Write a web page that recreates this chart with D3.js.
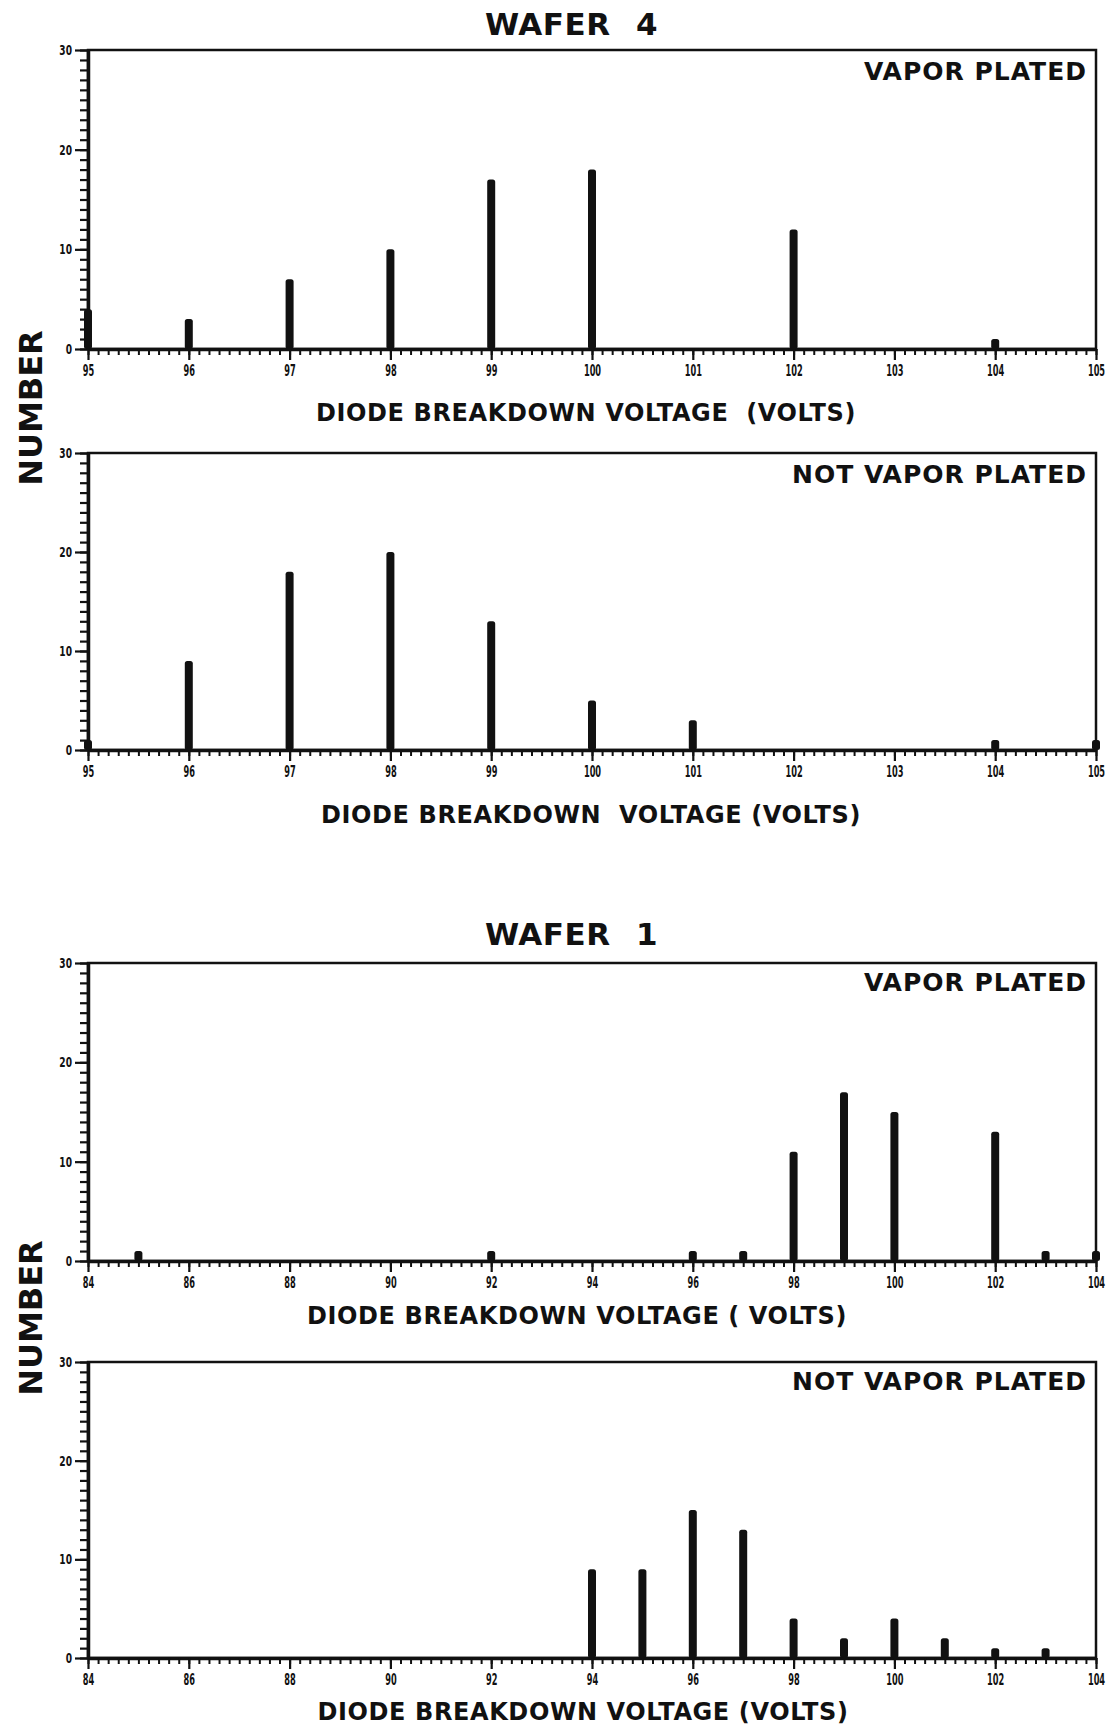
<!DOCTYPE html>
<html>
<head>
  <meta charset="utf-8">
  <style>
    body { margin: 0; background: #fff; }
    text { font-family: "DejaVu Sans", sans-serif; font-weight: bold; fill: #111; white-space: pre; }
  </style>
</head>
<body>
  <script src="https://cdn.jsdelivr.net/npm/d3@7/dist/d3.min.js"></script>
  <script>
    // wafer 4 values (count of diodes per breakdown voltage)
    var w4Ticks = [95, 96, 97, 98, 99, 100, 101, 102, 103, 104, 105];
    var w4VpVolts = [95, 96, 97, 98, 99, 100, 102, 104];
    var w4VpCounts = [4, 3, 7, 10, 17, 18, 12, 1];
    var w4NvpVolts = [95, 96, 97, 98, 99, 100, 101, 104, 105];
    var w4NvpCounts = [1, 9, 18, 20, 13, 5, 3, 1, 1];

    // wafer 1 values
    var w1Ticks = [84, 86, 88, 90, 92, 94, 96, 98, 100, 102, 104];
    var w1VpVolts = [85, 92, 96, 97, 98, 99, 100, 102, 103, 104];
    var w1VpCounts = [1, 1, 1, 1, 11, 17, 15, 13, 1, 1];
    var w1NvpVolts = [94, 95, 96, 97, 98, 99, 100, 101, 102, 103];
    var w1NvpCounts = [9, 9, 15, 13, 4, 2, 4, 2, 1, 1];

    var yTicks = [0, 10, 20, 30];

    var width = 1117, height = 1725;
    var left = 88, right = 1096;

    var svg = d3.select("body").append("svg")
      .attr("width", width)
      .attr("height", height);

    // titles
    function title(txt, num, base) {
      var t = svg.append("text").attr("x", 485).attr("y", base)
        .attr("font-size", 31).attr("letter-spacing", 0.5);
      t.append("tspan").text(txt);
      t.append("tspan").attr("x", 636).text(num);
    }
    title("WAFER", "4", 35);
    title("WAFER", "1", 945);

    // vertical NUMBER labels
    [408, 1318].forEach(function (cy) {
      svg.append("text")
        .attr("transform", "translate(42," + cy + ") rotate(-90)")
        .attr("text-anchor", "middle")
        .attr("font-size", 32)
        .text("NUMBER");
    });

    function panel(o) {
      var x = d3.scaleLinear().domain([o.ticks[0], o.ticks[o.ticks.length - 1]]).range([left, right]);
      var y = d3.scaleLinear().domain([0, 30]).range([o.zero, o.top]);
      var g = svg.append("g");

      // frame (top + right)
      g.append("rect")
        .attr("x", left).attr("y", o.top)
        .attr("width", right - left).attr("height", o.zero - o.top)
        .attr("fill", "none").attr("stroke", "#111").attr("stroke-width", 2.5);

      // x minor ticks
      var xMinor = g.append("g")
        .attr("transform", "translate(0," + o.zero + ")")
        .call(d3.axisBottom(x)
          .tickValues(d3.range(o.ticks[0], o.ticks[o.ticks.length - 1] + 0.001, o.minor))
          .tickSize(6).tickSizeOuter(0).tickFormat(""));
      xMinor.selectAll("line").attr("stroke", "#111").attr("stroke-width", 2);
      xMinor.select(".domain").attr("stroke", "#111").attr("stroke-width", 3.5);

      // x major ticks + labels
      var xMajor = g.append("g")
        .attr("transform", "translate(0," + o.zero + ")")
        .call(d3.axisBottom(x).tickValues(o.ticks).tickSize(11).tickSizeOuter(0).tickPadding(5));
      xMajor.select(".domain").remove();
      xMajor.selectAll("line").attr("stroke", "#111").attr("stroke-width", 2.2);
      xMajor.selectAll("text")
        .attr("font-family", "DejaVu Sans")
        .attr("font-weight", "bold")
        .attr("font-size", 15)
        .attr("fill", "#111")
        .attr("transform", "scale(0.55,1)");

      // y minor ticks
      var yMinor = g.append("g")
        .attr("transform", "translate(" + left + ",0)")
        .call(d3.axisLeft(y).tickValues(d3.range(0, 31, 1)).tickSize(8).tickSizeOuter(0).tickFormat(""));
      yMinor.selectAll("line").attr("stroke", "#111").attr("stroke-width", 2.2);
      yMinor.select(".domain").attr("stroke", "#111").attr("stroke-width", 3.5);

      // y major ticks + labels
      var yMajor = g.append("g")
        .attr("transform", "translate(" + left + ",0)")
        .call(d3.axisLeft(y).tickValues(yTicks).tickSize(13).tickSizeOuter(0));
      yMajor.select(".domain").remove();
      yMajor.selectAll("line").attr("stroke", "#111").attr("stroke-width", 2.2);
      yMajor.selectAll("text")
        .attr("font-family", "DejaVu Sans")
        .attr("font-weight", "bold")
        .attr("font-size", 14)
        .attr("fill", "#111")
        .attr("x", 0)
        .attr("transform", "translate(-16,0) scale(0.65,1)");

      // bars
      g.selectAll(".bar")
        .data(o.volts)
        .enter()
        .append("rect")
        .attr("x", function (d) { return x(d) - 4; })
        .attr("y", function (d, i) { return y(o.counts[i]); })
        .attr("width", 8)
        .attr("height", function (d, i) { return o.zero - y(o.counts[i]); })
        .attr("rx", 2.5)
        .attr("fill", "#111");

      // tag in upper right
      g.append("text")
        .attr("x", 1087).attr("y", o.tagBase)
        .attr("text-anchor", "end")
        .attr("font-size", 25)
        .attr("letter-spacing", 1)
        .text(o.tag);

      // x axis label
      g.append("text")
        .attr("x", o.labelCx).attr("y", o.labelBase)
        .attr("text-anchor", "middle")
        .attr("font-size", 24)
        .attr("letter-spacing", 0.6)
        .text(o.label);
    }

    panel({ ticks: w4Ticks, minor: 0.1, volts: w4VpVolts, counts: w4VpCounts,
            top: 50, zero: 349, tagBase: 80, labelBase: 421, labelCx: 586,
            tag: "VAPOR PLATED", label: "DIODE BREAKDOWN VOLTAGE  (VOLTS)" });
    panel({ ticks: w4Ticks, minor: 0.1, volts: w4NvpVolts, counts: w4NvpCounts,
            top: 453, zero: 750, tagBase: 483, labelBase: 823, labelCx: 591,
            tag: "NOT VAPOR PLATED", label: "DIODE BREAKDOWN  VOLTAGE (VOLTS)" });
    panel({ ticks: w1Ticks, minor: 0.2, volts: w1VpVolts, counts: w1VpCounts,
            top: 963, zero: 1261, tagBase: 991, labelBase: 1324, labelCx: 577,
            tag: "VAPOR PLATED", label: "DIODE BREAKDOWN VOLTAGE ( VOLTS)" });
    panel({ ticks: w1Ticks, minor: 0.2, volts: w1NvpVolts, counts: w1NvpCounts,
            top: 1362, zero: 1658, tagBase: 1390, labelBase: 1720, labelCx: 583,
            tag: "NOT VAPOR PLATED", label: "DIODE BREAKDOWN VOLTAGE (VOLTS)" });
  </script>
</body>
</html>
